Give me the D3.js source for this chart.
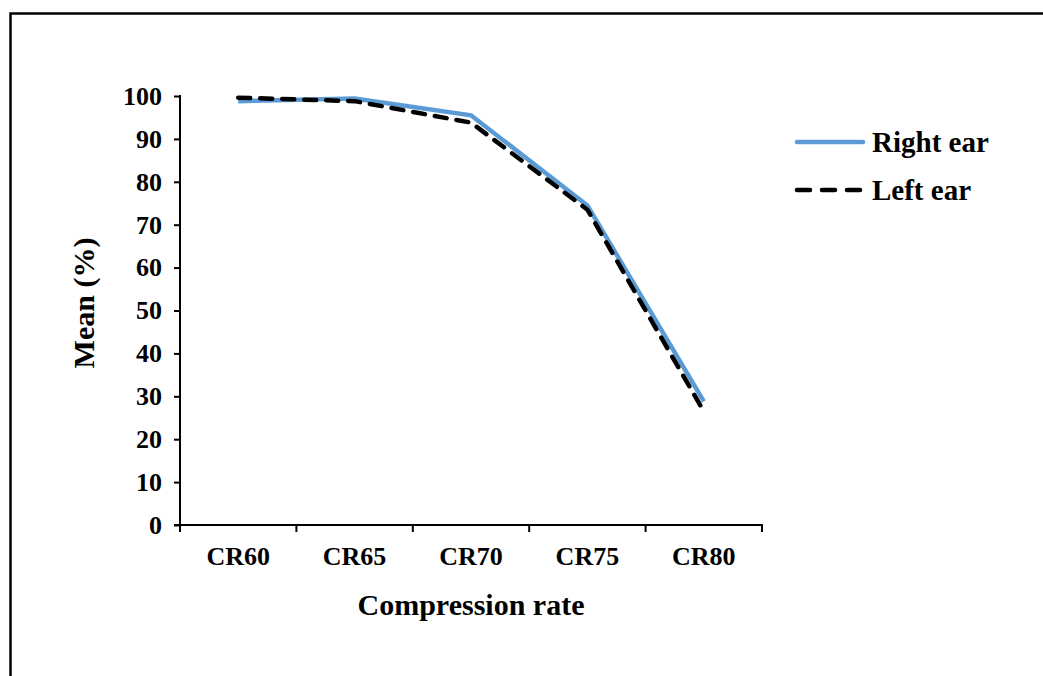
<!DOCTYPE html>
<html lang="en">
<head>
<meta charset="UTF-8">
<script src="https://d3js.org/d3.v7.min.js"></script>
<style>
  body { margin: 0; background: #fff; }
  text { font-family: "Liberation Serif", "Times New Roman", serif; font-weight: bold; fill: #000; }
</style>
</head>
<body>
<script>
    var categories = ["CR60", "CR65", "CR70", "CR75", "CR80"];
    var rightEar = [98.8, 99.4, 95.5, 74.5, 28.8];
    var leftEar = [99.6, 98.8, 93.8, 73.5, 26.5];
    var yTicks = [0, 10, 20, 30, 40, 50, 60, 70, 80, 90, 100];

    var canvasWidth = 1043, canvasHeight = 676;
    var svg = d3.select("body").append("svg")
        .attr("width", canvasWidth)
        .attr("height", canvasHeight);

    // outer frame, runs off right and bottom
    svg.append("rect")
        .attr("x", 10.5).attr("y", 13.5)
        .attr("width", 1100).attr("height", 800)
        .attr("fill", "none").attr("stroke", "#000").attr("stroke-width", 2.5);

    var plotLeft = 180, plotTop = 96, plotW = 582, plotH = 429;
    var g = svg.append("g").attr("transform", "translate(" + plotLeft + "," + plotTop + ")");

    var xScale = d3.scaleBand().domain(categories).range([0, plotW]);
    var yScale = d3.scaleLinear().domain([0, 100]).range([plotH, 0]);

    // y axis
    var yAxis = g.append("g")
        .call(d3.axisLeft(yScale).tickValues(yTicks).tickSize(6).tickPadding(12));
    yAxis.select(".domain").attr("stroke-width", 2).attr("d", "M0," + (plotH + 1) + "V-1");
    yAxis.selectAll(".tick line").attr("stroke-width", 2);
    yAxis.selectAll("text").attr("font-size", "26px").attr("fill", "#000")
        .attr("font-family", "Liberation Serif").attr("font-weight", "bold");

    // x axis with ticks at band edges
    var xAxis = g.append("g").attr("transform", "translate(0," + plotH + ")");
    xAxis.append("line").attr("x1", -6).attr("x2", plotW + 1)
        .attr("stroke", "#000").attr("stroke-width", 2);
    var edges = categories.map(function (c) { return xScale(c); }).concat([plotW]);
    xAxis.selectAll(".xt").data(edges).enter().append("line")
        .attr("x1", function (d) { return d; }).attr("x2", function (d) { return d; })
        .attr("y1", 0).attr("y2", 7)
        .attr("stroke", "#000").attr("stroke-width", 2);
    xAxis.selectAll(".xl").data(categories).enter().append("text")
        .attr("x", function (d) { return xScale(d) + xScale.bandwidth() / 2; })
        .attr("y", 40)
        .attr("text-anchor", "middle")
        .attr("font-size", "26px")
        .text(function (d) { return d; });

    // axis titles
    svg.append("text")
        .attr("x", plotLeft + plotW / 2).attr("y", 615)
        .attr("text-anchor", "middle").attr("font-size", "30px")
        .text("Compression rate");
    svg.append("text")
        .attr("transform", "translate(94,303) rotate(-90)")
        .attr("text-anchor", "middle").attr("font-size", "30px")
        .text("Mean (%)");

    var line = d3.line()
        .x(function (d, i) { return xScale(categories[i]) + xScale.bandwidth() / 2; })
        .y(function (d) { return yScale(d); });

    g.append("path").datum(rightEar)
        .attr("d", line)
        .attr("fill", "none").attr("stroke", "#5b9bd5").attr("stroke-width", 4.5);
    g.append("path").datum(leftEar)
        .attr("d", line)
        .attr("fill", "none").attr("stroke", "#000").attr("stroke-width", 4.5)
        .attr("stroke-dasharray", "12,10").attr("stroke-linecap", "round");

    // legend
    var legend = [
        { name: "Right ear", color: "#5b9bd5", dash: null, y: 142 },
        { name: "Left ear", color: "#000", dash: "13,12", y: 190 }
    ];
    var lg = svg.selectAll(".lg").data(legend).enter().append("g");
    lg.append("line")
        .attr("x1", 797).attr("x2", 863)
        .attr("y1", function (d) { return d.y; }).attr("y2", function (d) { return d.y; })
        .attr("stroke", function (d) { return d.color; })
        .attr("stroke-width", 4.5)
        .attr("stroke-linecap", "round")
        .attr("stroke-dasharray", function (d) { return d.dash; });
    lg.append("text")
        .attr("x", 872).attr("y", function (d) { return d.y + 10; })
        .attr("font-size", "29px")
        .text(function (d) { return d.name; });
</script>
</body>
</html>
